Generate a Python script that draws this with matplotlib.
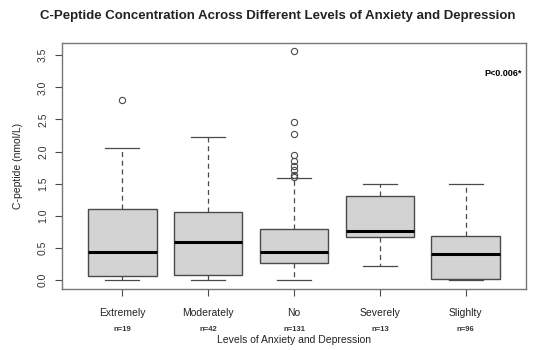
import matplotlib
matplotlib.use("Agg")
import matplotlib.pyplot as plt

plt.rcParams['font.family'] = ['Liberation Sans', 'DejaVu Sans']

# groups and counts
groups = ["Extremely", "Moderately", "No", "Severely", "Slighlty"]
counts = [19, 42, 131, 13, 96]

# box stats (nmol/L)
q1 = [0.06, 0.08, 0.26, 0.67, 0.01]
med = [0.43, 0.59, 0.43, 0.76, 0.40]
q3 = [1.10, 1.06, 0.79, 1.30, 0.68]
whislo = [0.0, 0.0, 0.0, 0.21, 0.0]
whishi = [2.05, 2.22, 1.58, 1.50, 1.50]
outliers = [
    [2.81],
    [],
    [3.56, 2.46, 2.28, 1.95, 1.85, 1.78, 1.71, 1.64, 1.61],
    [],
    [],
]

stats = []
for i, g in enumerate(groups):
    stats.append(dict(label=g, q1=q1[i], med=med[i], q3=q3[i],
                      whislo=whislo[i], whishi=whishi[i], fliers=outliers[i]))

fig = plt.figure(figsize=(5.5, 3.5), dpi=100)
ax = fig.add_axes([0.1127, 0.1743, 0.8437, 0.7027])

edge = "#4a4a4a"
ax.bxp(stats, positions=range(1, 6), widths=0.8, patch_artist=True,
       boxprops=dict(facecolor="#d3d3d3", edgecolor=edge, linewidth=1.0),
       medianprops=dict(color="black", linewidth=2.2),
       whiskerprops=dict(color=edge, linestyle=(0, (4, 3)), linewidth=0.9),
       capprops=dict(color=edge, linewidth=0.9),
       capwidths=0.4,
       flierprops=dict(marker="o", markerfacecolor="none", markeredgecolor=edge,
                       markersize=4.5, markeredgewidth=0.8))

ax.set_xlim(0.3, 5.7)
ax.set_ylim(-0.142, 3.69)
ax.set_yticks([0, 0.5, 1.0, 1.5, 2.0, 2.5, 3.0, 3.5])
ax.set_yticklabels(["0.0", "0.5", "1.0", "1.5", "2.0", "2.5", "3.0", "3.5"],
                   rotation=90, va="center", fontsize=7.5, color="#333333")
ax.set_xticks(range(1, 6))
ax.set_xticklabels(groups, fontsize=7.5, color="#222222")
ax.tick_params(axis="both", direction="out", length=5, color=edge, width=0.8)
ax.tick_params(axis="x", pad=9)
ax.tick_params(axis="y", pad=5)
for s in ax.spines.values():
    s.set_color("#777777")
    s.set_linewidth(1.0)

for i, n in enumerate(counts):
    ax.annotate("n=%d" % n, xy=(i + 1, 0), xycoords=("data", "axes fraction"),
                xytext=(0, -30), textcoords="offset points", ha="center",
                fontsize=5.5, fontweight="bold", color="#333333")

ax.set_xlabel("Levels of Anxiety and Depression", fontsize=7.5, labelpad=12,
              color="#222222")
ax.set_ylabel("C-peptide (nmol/L)", fontsize=7.5, labelpad=11, color="#222222")
ax.text(5.43, 3.22, "P<0.006*", ha="center", va="center", fontsize=6.5,
        fontweight="bold")

fig.text(0.505, 0.955, "C-Peptide Concentration Across Different Levels of Anxiety and Depression",
         ha="center", va="center", fontsize=9.5, fontweight="bold", color="#222222")

fig.savefig("out.png", dpi=100)
